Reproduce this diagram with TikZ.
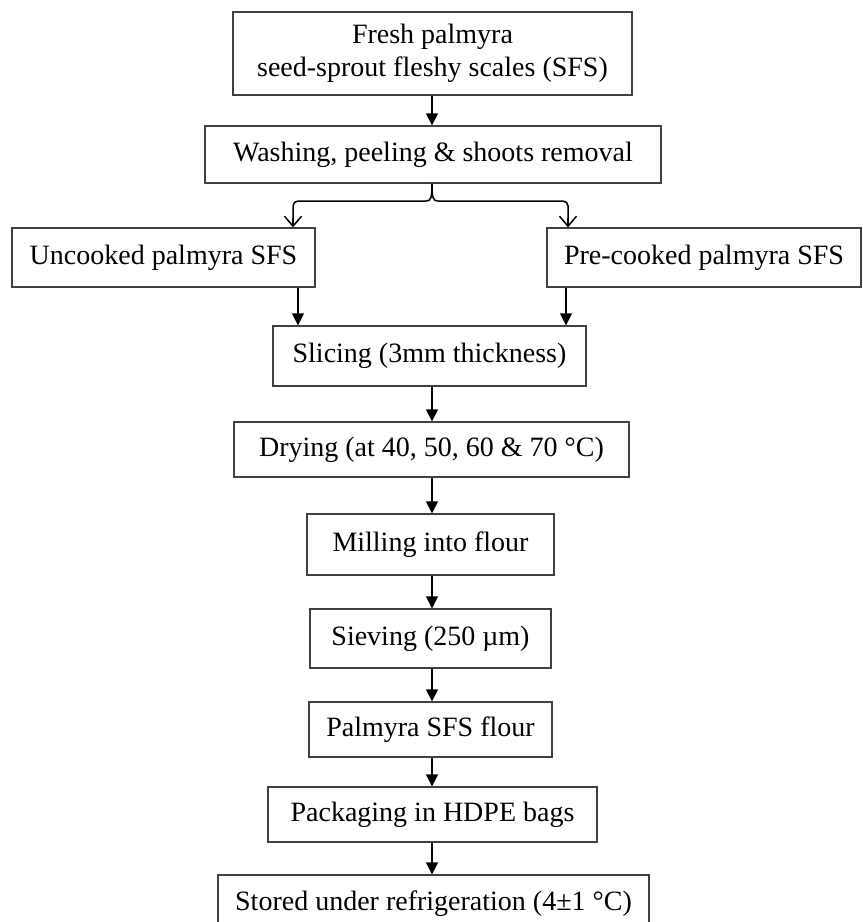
\documentclass[tikz,border=0pt]{standalone}
\usepackage{fontspec}
\setmainfont{Liberation Serif}
\usetikzlibrary{arrows.meta,calc}
\tikzset{
  x=1pt, y=-1pt,
  box/.style={draw=black!75, line width=1.3pt, fill=white, inner sep=0pt, align=center,
    font=\fontsize{28}{33}\selectfont},
  arr/.style={line width=1.5pt, -{Triangle[length=12pt,width=12pt]}},
  barb/.style={line width=1.5pt, -{Straight Barb[length=10pt,width=17pt,line width=1.5pt]}}
}
\newcommand{\bx}[6]{% name, x1, x2, y1, y2, text
  \node[box, minimum width={#3-#2}, minimum height={#5-#4}] (#1) at ({(#2+#3)/2},{(#4+#5)/2}) {#6};}
\begin{document}
\begin{tikzpicture}
\useasboundingbox (0,0) rectangle (863,922);
\bx{fresh}{233}{632}{12}{95}{Fresh palmyra\\seed-sprout fleshy scales (SFS)}
\bx{wash}{205}{661}{126}{183}{Washing, peeling \& shoots removal}
\bx{unc}{12}{315}{228}{287}{Uncooked palmyra SFS}
\bx{pre}{547}{861}{228}{287}{Pre-cooked palmyra SFS}
\bx{slic}{273}{586}{326}{386}{Slicing (3mm thickness)}
\bx{dry}{234}{629}{422}{477}{Drying (at 40, 50, 60 \& 70 °C)}
\bx{mill}{307}{554}{514}{575}{Milling into flour}
\bx{siev}{310}{551}{609}{668}{Sieving (250 µm)}
\bx{flour}{309}{552}{702}{757}{Palmyra SFS flour}
\bx{pack}{268}{597}{787}{842}{Packaging in HDPE bags}
\bx{stor}{218}{649}{875}{933}{Stored under refrigeration (4±1 °C)}
\coordinate (cx) at (432,0);
\coordinate (lx) at (293,0);
\coordinate (rx) at (568,0);
\coordinate (ulx) at (298,0);
\coordinate (urx) at (566,0);
\coordinate (by) at (0,201);
\coordinate (ty) at (0,225);
\coordinate (ay) at (0,218);
\coordinate (bl) at (426,201);
\coordinate (br) at (438,201);
\draw[arr] (fresh.south -| cx) -- (wash.north -| cx);
\draw[line width=1.5pt, rounded corners=5pt] (lx |- ty) -- (lx |- by) -- (bl);
\draw[line width=1.5pt] (bl) .. controls ($(cx |- by)+(-1,0)$) and ($(cx |- by)+(0,-3)$) .. (wash.south -| cx)
  .. controls ($(cx |- by)+(0,-3)$) and ($(cx |- by)+(1,0)$) .. (br);
\draw[line width=1.5pt, rounded corners=5pt] (br) -- (rx |- by) -- (rx |- ty);
\draw[barb] (lx |- ay) -- (unc.north -| lx);
\draw[barb] (rx |- ay) -- (pre.north -| rx);
\draw[arr] (unc.south -| ulx) -- (slic.north -| ulx);
\draw[arr] (pre.south -| urx) -- (slic.north -| urx);
\draw[arr] (slic.south -| cx) -- (dry.north -| cx);
\draw[arr] (dry.south -| cx) -- (mill.north -| cx);
\draw[arr] (mill.south -| cx) -- (siev.north -| cx);
\draw[arr] (siev.south -| cx) -- (flour.north -| cx);
\draw[arr] (flour.south -| cx) -- (pack.north -| cx);
\draw[arr] (pack.south -| cx) -- (stor.north -| cx);
\end{tikzpicture}
\end{document}
